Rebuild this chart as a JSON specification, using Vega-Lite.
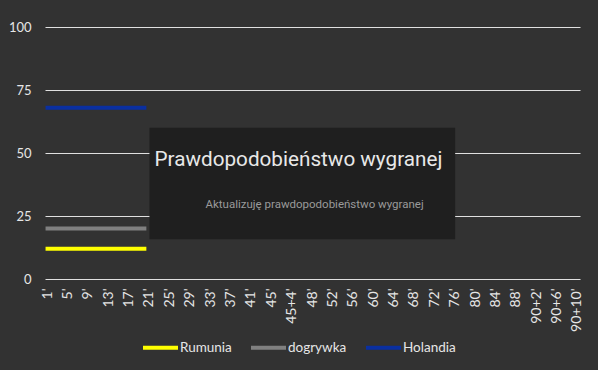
{
  "$schema": "https://vega.github.io/schema/vega-lite/v6.json",
  "autosize": "none",
  "width": 535,
  "height": 252,
  "padding": {"left": 45, "top": 27, "right": 18, "bottom": 91},
  "background": "#323232",
  "config": {
    "view": {"stroke": null},
    "font": "Lato",
    "axis": {"labelFont": "Lato", "labelColor": "#e6e6e6", "ticks": false, "domain": false, "titleColor": "#e6e6e6"},
    "legend": {"labelFont": "Lato", "labelColor": "#e6e6e6"}
  },
  "datasets": {
    "series": [
      {"minute": "1'", "team": "Rumunia", "p": 12}, {"minute": "2'", "team": "Rumunia", "p": 12},
      {"minute": "3'", "team": "Rumunia", "p": 12}, {"minute": "4'", "team": "Rumunia", "p": 12},
      {"minute": "5'", "team": "Rumunia", "p": 12}, {"minute": "6'", "team": "Rumunia", "p": 12},
      {"minute": "7'", "team": "Rumunia", "p": 12}, {"minute": "8'", "team": "Rumunia", "p": 12},
      {"minute": "9'", "team": "Rumunia", "p": 12}, {"minute": "10'", "team": "Rumunia", "p": 12},
      {"minute": "11'", "team": "Rumunia", "p": 12}, {"minute": "12'", "team": "Rumunia", "p": 12},
      {"minute": "13'", "team": "Rumunia", "p": 12}, {"minute": "14'", "team": "Rumunia", "p": 12},
      {"minute": "15'", "team": "Rumunia", "p": 12}, {"minute": "16'", "team": "Rumunia", "p": 12},
      {"minute": "17'", "team": "Rumunia", "p": 12}, {"minute": "18'", "team": "Rumunia", "p": 12},
      {"minute": "19'", "team": "Rumunia", "p": 12}, {"minute": "20'", "team": "Rumunia", "p": 12},
      {"minute": "1'", "team": "dogrywka", "p": 20}, {"minute": "2'", "team": "dogrywka", "p": 20},
      {"minute": "3'", "team": "dogrywka", "p": 20}, {"minute": "4'", "team": "dogrywka", "p": 20},
      {"minute": "5'", "team": "dogrywka", "p": 20}, {"minute": "6'", "team": "dogrywka", "p": 20},
      {"minute": "7'", "team": "dogrywka", "p": 20}, {"minute": "8'", "team": "dogrywka", "p": 20},
      {"minute": "9'", "team": "dogrywka", "p": 20}, {"minute": "10'", "team": "dogrywka", "p": 20},
      {"minute": "11'", "team": "dogrywka", "p": 20}, {"minute": "12'", "team": "dogrywka", "p": 20},
      {"minute": "13'", "team": "dogrywka", "p": 20}, {"minute": "14'", "team": "dogrywka", "p": 20},
      {"minute": "15'", "team": "dogrywka", "p": 20}, {"minute": "16'", "team": "dogrywka", "p": 20},
      {"minute": "17'", "team": "dogrywka", "p": 20}, {"minute": "18'", "team": "dogrywka", "p": 20},
      {"minute": "19'", "team": "dogrywka", "p": 20}, {"minute": "20'", "team": "dogrywka", "p": 20},
      {"minute": "1'", "team": "Holandia", "p": 68}, {"minute": "2'", "team": "Holandia", "p": 68},
      {"minute": "3'", "team": "Holandia", "p": 68}, {"minute": "4'", "team": "Holandia", "p": 68},
      {"minute": "5'", "team": "Holandia", "p": 68}, {"minute": "6'", "team": "Holandia", "p": 68},
      {"minute": "7'", "team": "Holandia", "p": 68}, {"minute": "8'", "team": "Holandia", "p": 68},
      {"minute": "9'", "team": "Holandia", "p": 68}, {"minute": "10'", "team": "Holandia", "p": 68},
      {"minute": "11'", "team": "Holandia", "p": 68}, {"minute": "12'", "team": "Holandia", "p": 68},
      {"minute": "13'", "team": "Holandia", "p": 68}, {"minute": "14'", "team": "Holandia", "p": 68},
      {"minute": "15'", "team": "Holandia", "p": 68}, {"minute": "16'", "team": "Holandia", "p": 68},
      {"minute": "17'", "team": "Holandia", "p": 68}, {"minute": "18'", "team": "Holandia", "p": 68},
      {"minute": "19'", "team": "Holandia", "p": 68}, {"minute": "20'", "team": "Holandia", "p": 68}
    ],
    "overlay": [
      {"title": "Prawdopodobieństwo wygranej", "subtitle": "Aktualizuję prawdopodobieństwo wygranej"}
    ]
  },
  "layer": [
    {
      "data": {"name": "series"},
      "mark": {"type": "line", "strokeWidth": 4, "strokeCap": "square"},
      "encoding": {
        "x": {
          "field": "minute", "type": "ordinal", "sort": null, "title": null,
          "scale": {
            "type": "band", "paddingInner": 0, "paddingOuter": 0,
            "domain": ["1'","2'","3'","4'","5'","6'","7'","8'","9'","10'","11'","12'","13'","14'","15'","16'","17'","18'","19'","20'","21'","22'","23'","24'","25'","26'","27'","28'","29'","30'","31'","32'","33'","34'","35'","36'","37'","38'","39'","40'","41'","42'","43'","44'","45'","45+1'","45+2'","45+3'","45+4'","45+5'","46'","47'","48'","49'","50'","51'","52'","53'","54'","55'","56'","57'","58'","59'","60'","61'","62'","63'","64'","65'","66'","67'","68'","69'","70'","71'","72'","73'","74'","75'","76'","77'","78'","79'","80'","81'","82'","83'","84'","85'","86'","87'","88'","89'","90'","90+1'","90+2'","90+3'","90+4'","90+5'","90+6'","90+7'","90+8'","90+9'","90+10'"]
          },
          "axis": {
            "values": ["1'","5'","9'","13'","17'","21'","25'","29'","33'","37'","41'","45'","45+4'","48'","52'","56'","60'","64'","68'","72'","76'","80'","84'","88'","90+2'","90+6'","90+10'"],
            "labelAngle": 270, "labelFontSize": 14, "labelPadding": 9, "grid": false
          }
        },
        "y": {
          "field": "p", "type": "quantitative", "title": null,
          "scale": {"domain": [0, 100], "nice": false, "zero": true},
          "axis": {"values": [0, 25, 50, 75, 100], "labelFontSize": 13, "labelPadding": 14, "grid": true, "gridColor": "#e0e0e0", "gridWidth": 1, "gridOpacity": 1}
        },
        "color": {
          "field": "team", "type": "nominal",
          "scale": {"domain": ["Rumunia", "dogrywka", "Holandia"], "range": ["#ffff00", "#808080", "#0a2fa0"]},
          "legend": {
            "title": null, "orient": "none", "direction": "horizontal",
            "legendX": 96, "legendY": 301,
            "symbolType": "stroke", "symbolSize": 1225, "symbolStrokeWidth": 4,
            "labelFontSize": 13.5, "labelOffset": 0, "columnPadding": 11
          }
        }
      }
    },
    {
      "data": {"name": "overlay"},
      "mark": {"type": "rect", "color": "#1f1f1f"},
      "encoding": {
        "x": {"datum": "21'"},
        "x2": {"datum": "76'"},
        "y": {"datum": 60},
        "y2": {"datum": 15.8}
      }
    },
    {
      "data": {"name": "overlay"},
      "mark": {"type": "text", "font": "Roboto", "fontSize": 20.7, "color": "#e8e8e8", "align": "left", "baseline": "middle"},
      "encoding": {
        "x": {"datum": "22'"},
        "y": {"datum": 47.3},
        "text": {"field": "title"}
      }
    },
    {
      "data": {"name": "overlay"},
      "mark": {"type": "text", "font": "Roboto", "fontSize": 11.5, "color": "#9a9a9a", "align": "left", "baseline": "middle"},
      "encoding": {
        "x": {"datum": "32'"},
        "y": {"datum": 29.5},
        "text": {"field": "subtitle"}
      }
    }
  ]
}
